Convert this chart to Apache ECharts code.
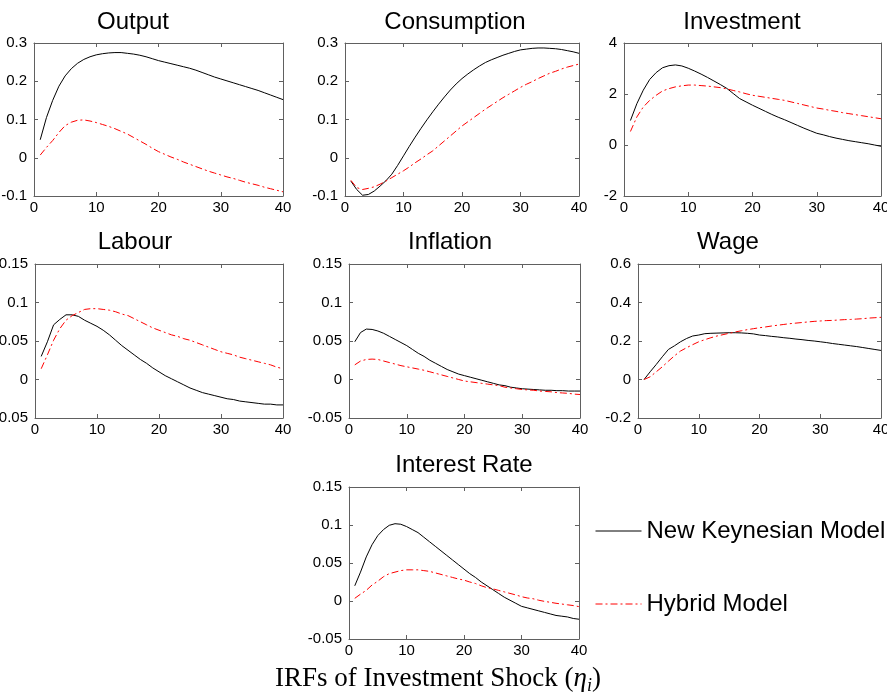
<!DOCTYPE html>
<html><head><meta charset="utf-8">
<script src="https://cdn.jsdelivr.net/npm/echarts@6/dist/echarts.min.js"></script>
<style>html,body{margin:0;padding:0;background:#fff;overflow:hidden;width:891px;height:698px;}
#c{position:absolute;left:-11px;top:0;width:898px;height:698px;}</style>
</head><body><div id="c"></div>
<script>
const periods = [1,2,3,4,5,6,7,8,9,10,11,12,13,14,15,16,17,18,19,20,21,22,23,24,25,26,27,28,29,30,31,32,33,34,35,36,37,38,39,40];

const outputNK = [0.047,0.105,0.150,0.187,0.214,0.233,0.247,0.257,0.264,0.269,0.272,0.274,0.275,0.275,0.273,0.271,0.268,0.264,0.259,0.254,0.250,0.246,0.242,0.238,0.234,0.229,0.223,0.217,0.211,0.206,0.201,0.196,0.191,0.186,0.181,0.176,0.170,0.164,0.158,0.152];
const outputHy = [0.007,0.027,0.045,0.066,0.084,0.093,0.098,0.099,0.096,0.092,0.087,0.082,0.076,0.069,0.062,0.053,0.044,0.035,0.025,0.016,0.009,0.002,-0.004,-0.011,-0.017,-0.023,-0.029,-0.035,-0.040,-0.045,-0.050,-0.054,-0.059,-0.064,-0.068,-0.072,-0.077,-0.081,-0.085,-0.089];

const consNK = [-0.061,-0.083,-0.098,-0.096,-0.087,-0.074,-0.060,-0.043,-0.020,0.005,0.030,0.054,0.077,0.099,0.120,0.140,0.159,0.177,0.193,0.207,0.219,0.230,0.240,0.249,0.256,0.262,0.268,0.273,0.278,0.282,0.284,0.286,0.287,0.287,0.286,0.285,0.283,0.280,0.277,0.273];
const consHy = [-0.059,-0.078,-0.083,-0.080,-0.076,-0.069,-0.061,-0.052,-0.043,-0.034,-0.024,-0.013,-0.003,0.008,0.018,0.031,0.044,0.057,0.070,0.083,0.094,0.105,0.116,0.127,0.137,0.147,0.157,0.166,0.175,0.184,0.192,0.199,0.207,0.214,0.221,0.226,0.232,0.237,0.241,0.245];

const invNK = [0.96,1.62,2.15,2.57,2.84,3.03,3.11,3.14,3.10,3.01,2.90,2.78,2.65,2.51,2.37,2.22,2.02,1.82,1.69,1.56,1.44,1.32,1.20,1.09,0.99,0.88,0.77,0.66,0.56,0.46,0.40,0.33,0.27,0.22,0.17,0.13,0.09,0.05,0.00,-0.05];
const invHy = [0.53,1.10,1.49,1.75,1.95,2.12,2.21,2.28,2.32,2.35,2.35,2.33,2.31,2.28,2.25,2.20,2.14,2.08,2.01,1.95,1.91,1.87,1.83,1.79,1.75,1.69,1.63,1.57,1.51,1.45,1.41,1.36,1.32,1.27,1.23,1.19,1.15,1.11,1.07,1.03];

const labNK = [0.030,0.049,0.071,0.078,0.084,0.084,0.082,0.077,0.073,0.069,0.064,0.058,0.051,0.044,0.038,0.032,0.026,0.021,0.015,0.010,0.005,0.001,-0.003,-0.007,-0.011,-0.014,-0.017,-0.019,-0.021,-0.023,-0.025,-0.026,-0.028,-0.029,-0.030,-0.031,-0.032,-0.032,-0.033,-0.033];
const labHy = [0.014,0.032,0.051,0.066,0.077,0.083,0.087,0.091,0.092,0.092,0.091,0.090,0.088,0.085,0.083,0.079,0.075,0.071,0.067,0.064,0.061,0.058,0.056,0.053,0.051,0.048,0.045,0.042,0.039,0.036,0.034,0.032,0.029,0.027,0.025,0.023,0.021,0.019,0.016,0.014];

const inflNK = [0.049,0.061,0.0655,0.065,0.063,0.060,0.056,0.052,0.048,0.044,0.039,0.034,0.030,0.025,0.021,0.017,0.013,0.010,0.007,0.005,0.003,0.001,-0.001,-0.003,-0.005,-0.007,-0.008,-0.010,-0.011,-0.012,-0.0125,-0.013,-0.0135,-0.014,-0.014,-0.0145,-0.0145,-0.015,-0.015,-0.015];
const inflHy = [0.019,0.024,0.026,0.0265,0.026,0.024,0.022,0.020,0.018,0.0165,0.015,0.0135,0.012,0.010,0.008,0.006,0.004,0.002,0.000,-0.002,-0.003,-0.004,-0.005,-0.006,-0.007,-0.008,-0.010,-0.011,-0.012,-0.013,-0.0135,-0.014,-0.015,-0.0155,-0.016,-0.017,-0.0175,-0.018,-0.019,-0.0195];

const wageNK = [0,0.04,0.078,0.118,0.156,0.175,0.196,0.213,0.226,0.231,0.238,0.240,0.241,0.242,0.243,0.243,0.242,0.240,0.237,0.231,0.228,0.224,0.221,0.217,0.214,0.210,0.207,0.203,0.200,0.196,0.192,0.187,0.183,0.179,0.175,0.171,0.166,0.161,0.156,0.151];
const wageHy = [0,0.014,0.040,0.066,0.095,0.123,0.148,0.165,0.181,0.196,0.207,0.217,0.226,0.233,0.240,0.247,0.253,0.259,0.264,0.269,0.273,0.278,0.282,0.286,0.290,0.293,0.296,0.299,0.302,0.304,0.306,0.307,0.309,0.311,0.312,0.314,0.316,0.319,0.321,0.323];

const rateNK = [0.020,0.038,0.058,0.074,0.086,0.094,0.0996,0.1017,0.101,0.098,0.094,0.090,0.084,0.078,0.072,0.066,0.060,0.054,0.048,0.042,0.036,0.031,0.025,0.020,0.015,0.010,0.005,0.001,-0.003,-0.007,-0.009,-0.011,-0.013,-0.015,-0.017,-0.019,-0.020,-0.021,-0.023,-0.024];
const rateHy = [0.0035,0.009,0.014,0.021,0.026,0.032,0.036,0.038,0.040,0.041,0.041,0.041,0.040,0.039,0.037,0.035,0.033,0.031,0.029,0.0275,0.025,0.023,0.020,0.0175,0.016,0.014,0.012,0.010,0.008,0.0057,0.004,0.003,0.001,-0.0005,-0.0017,-0.003,-0.004,-0.005,-0.006,-0.0074];

const panelTitles = ['Output','Consumption','Investment','Labour','Inflation','Wage','Interest Rate'];
const nkSeries = [outputNK, consNK, invNK, labNK, inflNK, wageNK, rateNK];
const hySeries = [outputHy, consHy, invHy, labHy, inflHy, wageHy, rateHy];
const yMin = [-0.1,-0.1,-2,-0.05,-0.05,-0.2,-0.05];
const yMax = [0.3,0.3,4,0.15,0.15,0.6,0.15];
const yStep = [0.1,0.1,2,0.05,0.05,0.2,0.05];
const xMin = 0, xMax = 40, xStep = 10;
const legendNames = ['New Keynesian Model','Hybrid Model'];
const figureTitle = 'IRFs of Investment Shock (';

// layout (canvas px; canvas is shifted 11px left of the page)
const layout = [
  {l:45, t:43, w:249, h:153, tx:144, ty:22},
  {l:356,t:43, w:234, h:153, tx:466, ty:22},
  {l:635,t:43, w:257, h:153, tx:753, ty:22},
  {l:46, t:264,w:248, h:154, tx:146, ty:242},
  {l:360,t:264,w:231, h:154, tx:461, ty:242},
  {l:649,t:264,w:243, h:154, tx:739, ty:242},
  {l:360,t:487,w:230, h:152, tx:475, ty:465}
];

const sans = 'Liberation Sans, Arial, sans-serif';
const frame = '#606060';
const grids = [], xAxes = [], yAxes = [], series = [], graphics = [];
layout.forEach((g, i) => {
  grids.push({left:g.l, top:g.t, width:g.w, height:g.h, containLabel:false, outerBoundsMode:'none'});
  const base = {type:'value', gridIndex:i, min:xMin, max:xMax, interval:xStep,
    axisLine:{onZero:false, lineStyle:{color:frame, width:1}},
    axisTick:{inside:true, length:4, lineStyle:{color:frame}},
    splitLine:{show:false}};
  xAxes.push(Object.assign({}, base, {position:'bottom',
    axisLabel:{color:'#000', fontSize:15, fontFamily:sans, margin:4}}));
  xAxes.push(Object.assign({}, base, {position:'top', axisLabel:{show:false}}));
  const ybase = {type:'value', gridIndex:i, min:yMin[i], max:yMax[i], interval:yStep[i],
    axisLine:{onZero:false, lineStyle:{color:frame, width:1}},
    axisTick:{inside:true, length:4, lineStyle:{color:frame}},
    splitLine:{show:false}};
  yAxes.push(Object.assign({}, ybase, {position:'left',
    axisLabel:{color:'#000', fontSize:15, fontFamily:sans, margin:7}}));
  yAxes.push(Object.assign({}, ybase, {position:'right', axisLabel:{show:false}}));
  series.push({type:'line', name:legendNames[0], xAxisIndex:2*i, yAxisIndex:2*i,
    data: periods.map((p,k)=>[p, nkSeries[i][k]]), symbol:'none', smooth:false,
    lineStyle:{color:'#000', width:1}, itemStyle:{color:'#000'}, animation:false});
  series.push({type:'line', name:legendNames[1], xAxisIndex:2*i, yAxisIndex:2*i,
    data: periods.map((p,k)=>[p, hySeries[i][k]]), symbol:'none', smooth:false,
    lineStyle:{color:'#ff0000', width:1, type:[7,3,2,3]}, itemStyle:{color:'#ff0000'}, animation:false});
  graphics.push({type:'text', x:g.tx, y:g.ty, style:{text:panelTitles[i], fill:'#000',
    font:'24px ' + sans, textAlign:'center', textVerticalAlign:'middle'}});
});

graphics.push({type:'text', x:449, y:679, style:{
  text: figureTitle + '{e|η}{s|i})',
  fill:'#000', fontSize:27, fontFamily:'Liberation Serif, Times New Roman, serif',
  align:'center', verticalAlign:'middle', lineHeight:32,
  rich:{
    e:{fontSize:27, fontStyle:'italic', fontFamily:'Liberation Serif, serif', lineHeight:32},
    s:{fontSize:18, fontStyle:'italic', fontFamily:'Liberation Serif, serif', lineHeight:18, verticalAlign:'bottom'}
  }}});

const chart = echarts.init(document.getElementById('c'), null, {renderer:'canvas'});
chart.setOption({
  animation:false,
  backgroundColor:'#fff',
  grid: grids, xAxis: xAxes, yAxis: yAxes, series: series,
  legend:{data:legendNames, orient:'vertical', left:606, top:519, padding:0, itemWidth:46, itemHeight:14,
    itemGap:49, itemStyle:{color:'rgba(0,0,0,0)', borderWidth:0, opacity:0},
    lineStyle:{width:1},
    textStyle:{fontSize:24, fontFamily:sans, color:'#000', lineHeight:24}},
  graphic: graphics
});
</script></body></html>
